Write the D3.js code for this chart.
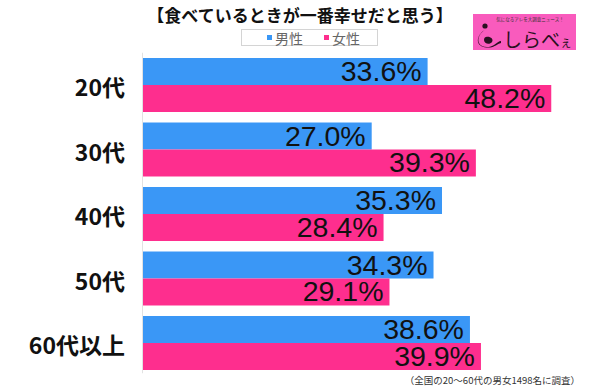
<!DOCTYPE html>
<html>
<head>
<meta charset="utf-8">
<script src="https://cdn.jsdelivr.net/npm/d3@7"></script>
<style>
  html, body { margin: 0; padding: 0; background: #fff; }
  svg { display: block; }
</style>
</head>
<body>
<svg id="chart" width="600" height="387"></svg>
<script>
const categories = ["20代", "30代", "40代", "50代", "60代以上"];
const seriesNames = ["男性", "女性"];
const male = [33.6, 27.0, 35.3, 34.3, 38.6];
const female = [48.2, 39.3, 28.4, 29.1, 39.9];
const title = "【食べているときが一番幸せだと思う】";
const footnote = "（全国の20～60代の男女1498名に調査）";

const colors = ["#3a97f6", "#fe2e8e"];
const svg = d3.select("#chart");
const jp = "'Noto Sans CJK JP', 'Noto Sans', sans-serif";
const num = "'Liberation Sans', Arial, sans-serif";

const x = d3.scaleLinear().domain([0, 50]).range([143, 566.5]);
const y = d3.scaleBand().domain(categories).range([52.75, 375.25]).paddingInner(0.163).paddingOuter(0.0815);
const ySub = d3.scaleBand().domain(seriesNames).range([0, y.bandwidth()]);

const rows = categories.map((c, i) => ({ cat: c, values: [male[i], female[i]] }));

// faint axis line
svg.append("line")
  .attr("x1", x(0) - 0.5).attr("x2", x(0) - 0.5)
  .attr("y1", y.range()[0]).attr("y2", y.range()[1] - 2)
  .attr("stroke", "#e2e2e2").attr("stroke-width", 1);

const g = svg.append("g").selectAll("g").data(rows).join("g")
  .attr("transform", d => `translate(0,${y(d.cat)})`);

g.selectAll("rect").data(d => d.values.map((v, j) => ({ v, s: seriesNames[j], j })))
  .join("rect")
  .attr("x", x(0))
  .attr("y", d => ySub(d.s))
  .attr("width", d => x(d.v) - x(0))
  .attr("height", ySub.bandwidth())
  .attr("fill", d => colors[d.j]);

g.selectAll("text.val").data(d => d.values.map((v, j) => ({ v, s: seriesNames[j], j })))
  .join("text")
  .attr("class", "val")
  .attr("x", d => x(d.v) - 6)
  .attr("y", d => ySub(d.s) + ySub.bandwidth() / 2 + 9.5)
  .attr("text-anchor", "end")
  .attr("font-family", num)
  .attr("font-size", 28.5)
  .attr("fill", "#111")
  .text(d => d3.format(".1f")(d.v) + "%");

// category labels
svg.append("g").selectAll("text").data(categories).join("text")
  .attr("x", 125)
  .attr("y", d => y(d) + y.bandwidth() / 2 + 1)
  .attr("dominant-baseline", "central")
  .attr("text-anchor", "end")
  .attr("font-family", jp)
  .attr("font-weight", "bold")
  .attr("font-size", 23)
  .attr("fill", "#111")
  .text(d => d);

// title
svg.append("text")
  .attr("x", 300).attr("y", 14)
  .attr("dominant-baseline", "central")
  .attr("text-anchor", "middle")
  .attr("font-family", jp)
  .attr("font-weight", "bold")
  .attr("font-size", 17)
  .attr("fill", "#111")
  .text(title);

// legend
const lg = svg.append("g");
lg.append("rect").attr("x", 241.5).attr("y", 29.5).attr("width", 136).attr("height", 16)
  .attr("fill", "#fff").attr("stroke", "#d4d4d4");
const legX = [267, 324];
seriesNames.forEach((s, i) => {
  lg.append("rect").attr("x", legX[i]).attr("y", 35).attr("width", 5).attr("height", 5).attr("fill", colors[i]);
  lg.append("text").attr("x", legX[i] + 8).attr("y", 38)
    .attr("dominant-baseline", "central")
    .attr("font-family", jp).attr("font-size", 14).attr("fill", "#666").text(s);
});

// logo
const logo = svg.append("g");
logo.append("rect").attr("x", 473).attr("y", 14).attr("width", 103).attr("height", 36).attr("fill", "#f95bbd");
logo.append("text").attr("x", 530).attr("y", 21).attr("text-anchor", "middle")
  .attr("font-family", jp).attr("font-size", 4.5).attr("fill", "#333").text("気になるアレを大調査ニュース！");
logo.append("circle").attr("cx", 485).attr("cy", 26).attr("r", 2.6).attr("fill", "#2a1020");
logo.append("path")
  .attr("d", "M486,29 C480,33 477,38 479,43 C481,48 490,48 494,45 C497,43 499,41 501,41 L501,43 C497,44 495,47 490,47.5 C484,48 479,46 478,42 C477,37 481,32 486,29 Z M486,37 C490,36 494,39 492,42 C490,45 484,44 484,40 C484,38 485,37 486,37 Z")
  .attr("fill", "#2a1020").attr("fill-rule", "evenodd");
logo.append("text").attr("x", 503).attr("y", 38).attr("dominant-baseline", "central")
  .attr("font-family", jp).attr("font-size", 19).attr("fill", "#2a1020")
  .text("しらべ")
  .append("tspan").attr("font-size", 12).attr("dy", 3).text("ぇ");

// footnote
svg.append("text")
  .attr("x", 580).attr("y", 380)
  .attr("dominant-baseline", "central")
  .attr("text-anchor", "end")
  .attr("font-family", jp).attr("font-size", 9.5).attr("fill", "#333")
  .text(footnote);
</script>
</body>
</html>
